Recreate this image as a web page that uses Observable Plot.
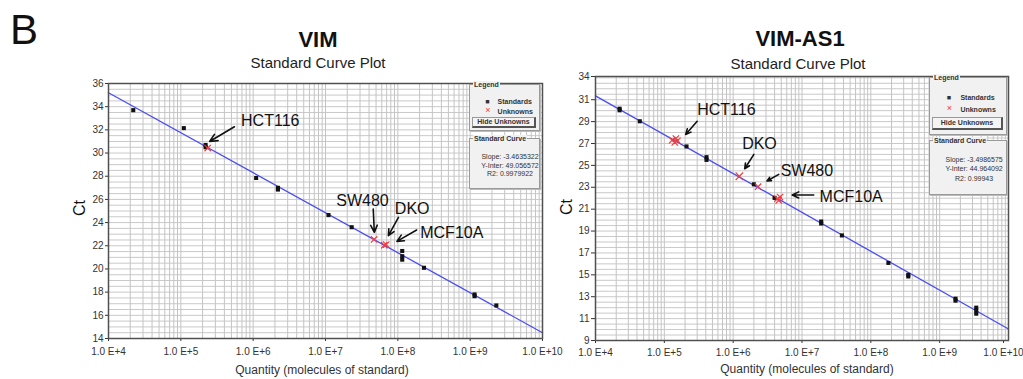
<!DOCTYPE html>
<html>
<head>
<meta charset="utf-8">
<script src="https://cdn.jsdelivr.net/npm/d3@7"></script>
<script src="https://cdn.jsdelivr.net/npm/@observablehq/plot@0.6"></script>
<style>
  body { margin: 0; background: #fff; }
  #wrap { position: relative; width: 1023px; height: 379px; overflow: hidden; font-family: "Liberation Sans", Arial, sans-serif; color: #111; }
  .abs { position: absolute; white-space: nowrap; line-height: 1; }
  .c { transform: translateX(-50%); }
  .box { position: absolute; background: #f1f1f1; border: 1px solid #9a9a9a; box-shadow: 1px 1px 0 #bbb; font-size: 7px; font-weight: bold; color: #333; }
  .box .ttl { position: absolute; left: 3px; top: -4px; background: #f1f1f1; padding: 0 1px; font-size: 7px; }
  .btn { position: absolute; border: 1px solid #999; border-right: 2px solid #555; border-bottom: 2px solid #555; background: #f4f4f4; text-align: center; font-size: 7px; }
</style>
</head>
<body>
<div id="wrap"></div>
<script>
// ---------------- data ----------------
const panelTitles = ["VIM", "VIM-AS1"];
const subTitle = "Standard Curve Plot";
const xTitle = "Quantity (molecules of standard)";
const yTitle = "Ct";

const xTicks = [1e4, 1e5, 1e6, 1e7, 1e8, 1e9, 1e10];
const xTickLabels = ["1.0 E+4", "1.0 E+5", "1.0 E+6", "1.0 E+7", "1.0 E+8", "1.0 E+9", "1.0 E+10"];

// VIM
const leftYTicks = [14, 16, 18, 20, 22, 24, 26, 28, 30, 32, 34, 36];
const leftYLabels = ["14", "16", "18", "20", "22", "24", "26", "28", "30", "32", "34", "36"];
const leftStdQ  = [2.2e4, 1.1e5, 2.2e5, 2.2e5, 1.1e6, 2.2e6, 2.2e6, 1.1e7, 2.3e7, 1.15e8, 1.15e8, 1.15e8, 2.3e8, 1.15e9, 1.15e9, 2.3e9];
const leftStdCt = [33.7, 32.15, 30.7, 30.5, 27.85, 27.0, 26.85, 24.65, 23.6, 21.55, 21.1, 20.8, 20.1, 17.8, 17.65, 16.85];
const leftUnkQ  = [2.35e5, 4.7e7, 6.5e7, 6.9e7];
const leftUnkCt = [30.43, 22.55, 22.05, 22.1];
const leftLineQ = [1e4, 1e10];
const leftLineCt = [35.2, 14.5];
const leftLabels = ["HCT116", "SW480", "DKO", "MCF10A"];
const leftLabelQ = [6.8e5, 1.41e7, 9.1e7, 2.04e8];
const leftLabelCt = [32.78, 25.9, 25.2, 23.13];
const leftArrowQ1 = [5.5e5, 4.57e7, 1.02e8, 1.82e8];
const leftArrowCt1 = [32.27, 25.17, 24.45, 23.36];
const leftArrowQ2 = [2.5e5, 4.73e7, 7.4e7, 9.7e7];
const leftArrowCt2 = [31.0, 23.16, 22.87, 22.38];
const leftCurve = ["Slope: -3.4635322", "Y-Inter: 49.056572", "R2: 0.9979922"];

// VIM-AS1
const rightYTicks = [9, 11, 13, 15, 17, 19, 21, 23, 25, 27, 29, 31, 33.12];
const rightYLabels = ["9", "11", "13", "15", "17", "19", "21", "23", "25", "27", "29", "31", "34"];
const rightStdQ  = [2.24e4, 2.24e4, 4.4e4, 2.1e5, 4.1e5, 4.1e5, 2.0e6, 4.0e6, 1.9e7, 1.9e7, 3.8e7, 1.8e8, 3.5e8, 3.5e8, 1.7e9, 1.7e9, 3.4e9, 3.4e9, 3.4e9];
const rightStdCt = [30.18, 30.03, 29.03, 26.73, 25.75, 25.5, 23.27, 22.03, 19.87, 19.69, 18.6, 16.09, 15.0, 14.85, 12.82, 12.64, 12.0, 11.75, 11.45];
const rightUnkQ  = [1.3e5, 1.42e5, 1.55e5, 1.47e5, 1.23e6, 2.3e6, 4.4e6, 4.8e6, 4.6e6];
const rightUnkCt = [27.3, 27.1, 27.25, 27.45, 24.0, 23.05, 21.95, 22.1, 21.8];
const rightUnkSize = [4, 4, 4, 4, 5.5, 4, 4, 4, 4];
const rightLineQ = [1e4, 1e10];
const rightLineCt = [31.35, 10.05];
const rightLabels = ["HCT116", "DKO", "SW480", "MCF10A"];
const rightLabelQ = [3.0e5, 1.35e6, 4.9e6, 1.8e7];
const rightLabelCt = [30.03, 26.96, 24.48, 22.15];
const rightArrowQ1 = [3.0e5, 2.0e6, 4.6e6, 1.48e7];
const rightArrowCt1 = [29.03, 26.0, 24.18, 22.3];
const rightArrowQ2 = [2.04e5, 1.47e6, 3.1e6, 7.2e6];
const rightArrowCt2 = [27.82, 24.69, 23.57, 22.3];
const rightCurve = ["Slope: -3.4986575", "Y-Inter: 44.964092", "R2: 0.99943"];

const legendItems = ["Standards", "Unknowns"];
const legendButton = "Hide Unknowns";

// ---------------- drawing ----------------
const wrap = document.getElementById("wrap");
const xMinor = d3.range(4, 10).flatMap(e => d3.range(1, 10).map(m => m * 10 ** e)).concat([1e10]);
const fmtX = d => xTickLabels[xTicks.indexOf(d)];

function panel(cfg) {
  const std = cfg.stdQ.map((q, i) => ({q, ct: cfg.stdCt[i]}));
  const unk = cfg.unkQ.map((q, i) => ({q, ct: cfg.unkCt[i], r: cfg.unkSize ? cfg.unkSize[i] : 4}));
  const line = cfg.lineQ.map((q, i) => ({q, ct: cfg.lineCt[i]}));
  const ann = cfg.labels.map((t, i) => ({t, q: cfg.labelQ[i], ct: cfg.labelCt[i],
    q1: cfg.aQ1[i], c1: cfg.aC1[i], q2: cfg.aQ2[i], c2: cfg.aC2[i]}));
  const yGrid = d3.range(cfg.yDomain[0], cfg.yDomain[1] + 0.001, 0.5);
  const chart = Plot.plot({
    width: cfg.width, height: 379,
    marginLeft: cfg.ml, marginRight: cfg.mr, marginTop: cfg.mt, marginBottom: cfg.mb,
    style: {fontFamily: '"Liberation Sans", Arial, sans-serif', fontSize: "10px", color: "#333", background: "transparent", overflow: "visible"},
    x: {type: "log", domain: [1e4, 1e10], label: null},
    y: {domain: cfg.yDomain, ticks: cfg.yTicks, tickFormat: d => cfg.yLabels[cfg.yTicks.indexOf(d)], tickSize: cfg.yts, tickPadding: cfg.ypad, label: null},
    marks: [
      Plot.frame({fill: "#fff", stroke: "none"}),
      Plot.ruleY(yGrid, {stroke: "#c9c9c9", strokeWidth: 1}),
      Plot.ruleX(xMinor, {stroke: "#c4c4c4", strokeWidth: 1}),
      Plot.axisX(xTicks.slice(0, -1), {tickFormat: fmtX, tickSize: 3, tickPadding: cfg.xpad, label: null}),
      Plot.axisX(xTicks.slice(-1), {tickFormat: fmtX, tickSize: 3, tickPadding: cfg.xpad, label: null, dx: cfg.lastDx}),
      Plot.line(line, {x: "q", y: "ct", stroke: "#4a4cf5", strokeWidth: 1.3}),
      Plot.dot(std, {x: "q", y: "ct", symbol: "square", r: 2.3, fill: "#111", stroke: "none"}),
      Plot.dot(unk, {x: "q", y: "ct", symbol: "times", r: "r", stroke: "#f23a3a", strokeWidth: 1.2}),
      Plot.arrow(ann, {x1: "q1", y1: "c1", x2: "q2", y2: "c2", stroke: "#111", strokeWidth: 1.6, headLength: 8, headAngle: 50}),
      Plot.text(ann, {x: "q", y: "ct", text: "t", textAnchor: "start", fontSize: 16, fill: "#111"}),
      Plot.frame({stroke: "#505050", strokeWidth: 1.5})
    ]
  });
  chart.style.position = "absolute";
  chart.style.left = cfg.left + "px";
  chart.style.top = "0px";
  wrap.appendChild(chart);
}

// left panel
panel({left: 0, width: 560, ml: 108, mr: 18, mt: 83, mb: 41, xpad: 6, yts: 3, ypad: 2, lastDx: 0,
  yDomain: [14, 36], yTicks: leftYTicks, yLabels: leftYLabels,
  stdQ: leftStdQ, stdCt: leftStdCt, unkQ: leftUnkQ, unkCt: leftUnkCt,
  lineQ: leftLineQ, lineCt: leftLineCt,
  labels: leftLabels, labelQ: leftLabelQ, labelCt: leftLabelCt,
  aQ1: leftArrowQ1, aC1: leftArrowCt1, aQ2: leftArrowQ2, aC2: leftArrowCt2});
// right panel
panel({left: 560, width: 463, ml: 35, mr: 15, mt: 76, mb: 39, xpad: 5, yts: 4, ypad: 2, lastDx: -5,
  yDomain: [9, 33.12], yTicks: rightYTicks, yLabels: rightYLabels,
  stdQ: rightStdQ, stdCt: rightStdCt, unkQ: rightUnkQ, unkCt: rightUnkCt, unkSize: rightUnkSize,
  lineQ: rightLineQ, lineCt: rightLineCt,
  labels: rightLabels, labelQ: rightLabelQ, labelCt: rightLabelCt,
  aQ1: rightArrowQ1, aC1: rightArrowCt1, aQ2: rightArrowQ2, aC2: rightArrowCt2});

// texts
function txt(s, x, y, css, center = true) {
  const d = document.createElement("div");
  d.className = "abs" + (center ? " c" : "");
  d.textContent = s;
  d.style.left = x + "px"; d.style.top = y + "px";
  Object.assign(d.style, css);
  wrap.appendChild(d);
  return d;
}
txt("B", 10, 8.5, {fontSize: "42px"}, false);
txt(panelTitles[0], 318, 28.5, {fontSize: "22px", fontWeight: "bold"});
txt(subTitle, 318, 55, {fontSize: "15px", color: "#222"});
txt(panelTitles[1], 800, 28, {fontSize: "22px", fontWeight: "bold"});
txt(subTitle, 798, 56.3, {fontSize: "15px", color: "#222"});
txt(xTitle, 322, 364, {fontSize: "12px", color: "#333"});
txt(xTitle, 807, 362.5, {fontSize: "12px", color: "#333"});
txt(yTitle, 80, 200, {fontSize: "16px", transform: "translateX(-50%) rotate(-90deg)"});
txt(yTitle, 567, 199, {fontSize: "16px", transform: "translateX(-50%) rotate(-90deg)"});

// legend / standard-curve boxes
function boxes(x, y, w, h1, gap, h2, curve) {
  const b1 = document.createElement("div");
  b1.className = "box";
  Object.assign(b1.style, {left: x + "px", top: y + "px", width: w + "px", height: h1 + "px"});
  b1.innerHTML = `<div class="ttl">Legend</div>
    <div class="abs" style="left:${w*0.22}px;top:${h1*0.28}px;font-size:7px;">&#9632;</div>
    <div class="abs" style="left:${w*0.4}px;top:${h1*0.28}px;font-size:7px;">${legendItems[0]}</div>
    <div class="abs" style="left:${w*0.22}px;top:${h1*0.47}px;font-size:9px;color:#f33;font-weight:normal;">&#215;</div>
    <div class="abs" style="left:${w*0.4}px;top:${h1*0.5}px;font-size:7px;">${legendItems[1]}</div>
    <div class="btn" style="left:2px;top:${h1*0.7}px;width:${w-8}px;height:${h1*0.18}px;line-height:${h1*0.18}px;">${legendButton}</div>`;
  wrap.appendChild(b1);
  const b2 = document.createElement("div");
  b2.className = "box";
  Object.assign(b2.style, {left: x + "px", top: (y + h1 + gap) + "px", width: w + "px", height: h2 + "px"});
  b2.innerHTML = `<div class="ttl">Standard Curve</div>` + curve.map((s, i) =>
    `<div class="abs" style="left:${w*0.58}px;top:${h2*0.28 + i*h2*0.18}px;font-size:7px;font-weight:normal;transform:translateX(-50%);">${s}</div>`).join("");
  wrap.appendChild(b2);
}
boxes(469, 84, 69, 45, 9, 49, leftCurve);
boxes(929, 77, 76, 56, 7, 53, rightCurve);
</script>
</body>
</html>
